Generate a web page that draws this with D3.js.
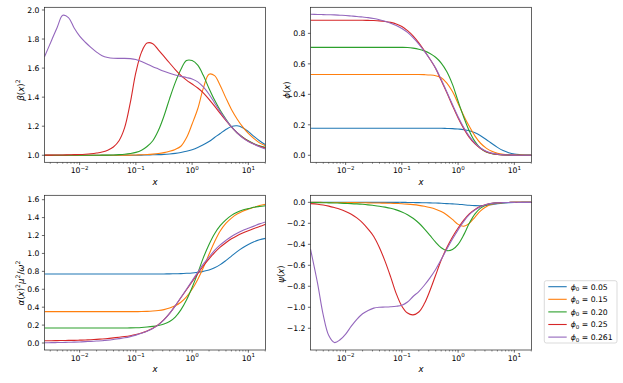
<!DOCTYPE html>
<html><head><meta charset="utf-8">
<script src="https://cdn.jsdelivr.net/npm/d3@7"></script>
<style>
body{margin:0;background:#fff;}
svg text{font-family:"DejaVu Sans",sans-serif;fill:#000;}
</style></head><body>
<svg id="c" width="623" height="383"></svg>
<script>
// radial coordinate samples (log-spaced)
const xs = [0.00237,0.00316,0.00398,0.00501,0.00631,0.00794,0.01,0.0126,0.0158,0.02,0.0251,0.0316,0.0398,0.0501,0.0631,0.0794,0.1,0.126,0.158,0.2,0.251,0.316,0.398,0.501,0.631,0.794,1,1.26,1.58,2,2.51,3.16,3.98,5.01,6.31,7.94,10,12.6,15.8,20.2];

const seriesLabels = ["0.05","0.15","0.20","0.25","0.261"];
const colors = ["#1f77b4","#ff7f0e","#2ca02c","#d62728","#9467bd"];

// beta(x)^2
const beta05 = [1,1,1,1,1,1,1,1,1,1,1,1,1,1,1,1,1,1.001,1.002,1.003,1.004,1.006,1.009,1.013,1.019,1.027,1.038,1.053,1.072,1.095,1.122,1.15,1.177,1.198,1.203,1.19,1.163,1.13,1.1,1.072];
const beta15 = [1,1,1,1,1,1,1,1,1,1,1,1,1,1,1.001,1.001,1.002,1.003,1.005,1.008,1.012,1.018,1.027,1.04,1.062,1.12,1.215,1.32,1.46,1.558,1.548,1.48,1.395,1.315,1.25,1.195,1.15,1.115,1.085,1.065];
const beta20 = [1,1,1,1,1,1,1,1,1,1,1.001,1.001,1.002,1.004,1.007,1.012,1.02,1.035,1.06,1.10,1.17,1.27,1.39,1.50,1.59,1.652,1.652,1.62,1.55,1.46,1.38,1.31,1.25,1.195,1.155,1.125,1.10,1.08,1.065,1.055];
const beta25 = [1.001,1.001,1.002,1.002,1.003,1.004,1.005,1.007,1.010,1.015,1.022,1.035,1.057,1.10,1.19,1.36,1.57,1.71,1.772,1.768,1.725,1.68,1.635,1.59,1.55,1.517,1.49,1.463,1.43,1.385,1.338,1.288,1.24,1.195,1.155,1.122,1.097,1.077,1.062,1.05];
const beta261 = [1.678,1.79,1.88,1.963,1.948,1.878,1.82,1.778,1.743,1.71,1.685,1.673,1.668,1.667,1.667,1.665,1.659,1.645,1.628,1.61,1.594,1.578,1.564,1.552,1.543,1.535,1.525,1.505,1.47,1.42,1.36,1.30,1.245,1.195,1.155,1.12,1.095,1.075,1.058,1.043];

// phi(x)
const phi05 = [0.177,0.177,0.177,0.177,0.177,0.177,0.177,0.177,0.177,0.177,0.177,0.177,0.177,0.177,0.177,0.177,0.177,0.177,0.177,0.177,0.177,0.177,0.177,0.177,0.176,0.175,0.172,0.168,0.161,0.148,0.128,0.104,0.077,0.052,0.031,0.017,0.008,0.004,0.002,0.001];
const phi15 = [0.53,0.53,0.53,0.53,0.53,0.53,0.53,0.53,0.53,0.53,0.53,0.53,0.53,0.53,0.53,0.53,0.53,0.53,0.53,0.53,0.529,0.527,0.522,0.509,0.474,0.418,0.34,0.26,0.19,0.126,0.079,0.047,0.026,0.013,0.006,0.003,0.0015,0.001,0.0005,0];
const phi20 = [0.708,0.708,0.708,0.708,0.708,0.708,0.708,0.708,0.708,0.708,0.708,0.708,0.708,0.708,0.708,0.708,0.708,0.707,0.703,0.696,0.685,0.668,0.643,0.605,0.548,0.465,0.355,0.25,0.16,0.09,0.046,0.022,0.011,0.005,0.002,0.001,0,0,0,0];
const phi25 = [0.886,0.886,0.886,0.886,0.886,0.886,0.886,0.886,0.886,0.886,0.885,0.884,0.882,0.878,0.872,0.862,0.845,0.818,0.784,0.738,0.686,0.63,0.57,0.49,0.41,0.325,0.245,0.175,0.118,0.075,0.045,0.024,0.012,0.006,0.003,0.0015,0.001,0,0,0];
const phi261 = [0.925,0.924,0.923,0.922,0.921,0.919,0.917,0.914,0.911,0.907,0.903,0.897,0.889,0.879,0.867,0.852,0.832,0.806,0.772,0.73,0.683,0.632,0.572,0.497,0.415,0.333,0.253,0.182,0.124,0.08,0.048,0.027,0.014,0.007,0.003,0.0015,0.001,0,0,0];

// alpha(x)^2 mu^2 / omega^2
const alpha05 = [0.771,0.771,0.771,0.771,0.771,0.771,0.771,0.771,0.771,0.771,0.771,0.771,0.771,0.771,0.771,0.771,0.771,0.771,0.771,0.771,0.771,0.771,0.772,0.773,0.775,0.778,0.782,0.79,0.80,0.815,0.84,0.875,0.92,0.97,1.02,1.063,1.10,1.13,1.152,1.168];
const alpha15 = [0.35,0.35,0.35,0.35,0.35,0.35,0.35,0.35,0.35,0.35,0.35,0.35,0.35,0.35,0.35,0.35,0.35,0.351,0.353,0.357,0.363,0.373,0.39,0.415,0.455,0.515,0.60,0.71,0.84,0.99,1.13,1.25,1.335,1.395,1.44,1.472,1.495,1.515,1.535,1.55];
const alpha20 = [0.168,0.168,0.168,0.168,0.168,0.168,0.168,0.168,0.168,0.168,0.168,0.168,0.168,0.168,0.168,0.169,0.171,0.174,0.179,0.186,0.196,0.212,0.24,0.29,0.37,0.48,0.62,0.78,0.95,1.10,1.22,1.31,1.375,1.425,1.46,1.485,1.50,1.515,1.524,1.532];
const alpha25 = [0.026,0.026,0.027,0.028,0.029,0.03,0.032,0.034,0.037,0.041,0.045,0.05,0.057,0.064,0.072,0.082,0.095,0.112,0.135,0.165,0.205,0.26,0.33,0.415,0.505,0.595,0.685,0.775,0.86,0.94,1.01,1.07,1.12,1.163,1.198,1.228,1.254,1.278,1.30,1.325];
const alpha261 = [0.003,0.004,0.005,0.006,0.008,0.01,0.012,0.015,0.018,0.022,0.026,0.032,0.04,0.049,0.058,0.071,0.088,0.108,0.132,0.163,0.203,0.258,0.33,0.415,0.508,0.60,0.695,0.79,0.88,0.96,1.035,1.095,1.145,1.19,1.225,1.255,1.28,1.305,1.33,1.352];

// psi(x)
const psi05 = [0,0,0,0,0,0,0,0,0,0,0,0,0,0,0,0,0,-0.001,-0.002,-0.003,-0.004,-0.005,-0.007,-0.009,-0.012,-0.015,-0.018,-0.023,-0.028,-0.031,-0.032,-0.029,-0.022,-0.014,-0.008,-0.004,-0.002,-0.001,0,0];
const psi15 = [0,0,-0.001,-0.001,-0.001,-0.002,-0.002,-0.003,-0.003,-0.004,-0.005,-0.006,-0.007,-0.008,-0.009,-0.011,-0.013,-0.017,-0.022,-0.029,-0.038,-0.05,-0.066,-0.088,-0.12,-0.163,-0.21,-0.228,-0.2,-0.14,-0.082,-0.042,-0.019,-0.008,-0.003,-0.001,0,0,0,0];
const psi20 = [-0.002,-0.003,-0.004,-0.005,-0.006,-0.008,-0.01,-0.012,-0.015,-0.019,-0.024,-0.03,-0.037,-0.046,-0.057,-0.072,-0.092,-0.118,-0.152,-0.197,-0.252,-0.315,-0.38,-0.433,-0.46,-0.45,-0.40,-0.31,-0.2,-0.11,-0.055,-0.026,-0.012,-0.005,-0.002,-0.001,0,0,0,0];
const psi25 = [-0.012,-0.018,-0.025,-0.036,-0.05,-0.066,-0.087,-0.113,-0.148,-0.195,-0.255,-0.325,-0.43,-0.56,-0.71,-0.87,-0.99,-1.055,-1.072,-1.045,-0.965,-0.84,-0.695,-0.55,-0.43,-0.33,-0.245,-0.17,-0.11,-0.068,-0.038,-0.02,-0.009,-0.004,-0.002,-0.001,0,0,0,0];
const psi261 = [-0.446,-0.77,-1.07,-1.27,-1.336,-1.31,-1.255,-1.18,-1.115,-1.062,-1.03,-1.008,-1.0,-0.998,-0.995,-0.99,-0.98,-0.95,-0.897,-0.85,-0.79,-0.72,-0.64,-0.545,-0.445,-0.35,-0.262,-0.182,-0.118,-0.072,-0.041,-0.021,-0.01,-0.005,-0.002,-0.001,0,0,0,0];

// ticks
const xMajorTicks = [0.01, 0.1, 1, 10];
const xMajorExps = ["\u22122", "\u22121", "0", "1"];
const yTicksBeta = [1.0, 1.2, 1.4, 1.6, 1.8, 2.0];
const yTicksPhi = [0.0, 0.2, 0.4, 0.6, 0.8];
const yTicksAlpha = [0.0, 0.2, 0.4, 0.6, 0.8, 1.0, 1.2, 1.4, 1.6];
const yTicksPsi = [-1.2, -1.0, -0.8, -0.6, -0.4, -0.2, 0.0];

const FS = 7.7;
const LFS = 8.6;
const svg = d3.select("#c");
const xDomain = [0.00237, 20.2];

function rich(sel, parts, fs){
  let cur = 0;
  parts.forEach(p => {
    const target = p.sup ? -0.42*fs : (p.sub ? 0.22*fs : 0);
    const ts = sel.append("tspan").attr("dy", (target-cur).toFixed(2)).text(p.t);
    cur = target;
    if (p.it) ts.attr("font-style","italic");
    if (p.sup || p.sub) ts.attr("font-size", (0.72*fs).toFixed(2));
  });
}

const panels = [
  {x0:44.5, y0:7.3, h:155, dom:[0.9515,2.0185], ticks:yTicksBeta, data:[beta05,beta15,beta20,beta25,beta261], lblX:24, lblY:90,
   label:[{t:"\u03b2",it:true},{t:"("},{t:"x",it:true},{t:")"},{t:"2",sup:true}]},
  {x0:310.5, y0:7.3, h:155, dom:[-0.046,0.971], ticks:yTicksPhi, data:[phi05,phi15,phi20,phi25,phi261], lblX:290, lblY:90,
   label:[{t:"\u03d5",it:true},{t:"("},{t:"x",it:true},{t:")"}]},
  {x0:44.5, y0:195.3, h:154.7, dom:[-0.078,1.649], ticks:yTicksAlpha, data:[alpha05,alpha15,alpha20,alpha25,alpha261], lblX:24, lblY:283,
   label:[{t:"\u03b1",it:true},{t:"("},{t:"x",it:true},{t:")"},{t:"2",sup:true},{t:"\u03bc",it:true},{t:"2",sup:true},{t:"/"},{t:"\u03c9",it:true},{t:"2",sup:true}]},
  {x0:310.5, y0:195.3, h:154.7, dom:[-1.407,0.067], ticks:yTicksPsi, data:[psi05,psi15,psi20,psi25,psi261], lblX:284, lblY:274,
   label:[{t:"\u03c8",it:true},{t:"("},{t:"x",it:true},{t:")"}]}
];
const W = 221;

panels.forEach((p, pi) => {
  const x = d3.scaleLog().domain(xDomain).range([p.x0, p.x0 + W]);
  const y = d3.scaleLinear().domain(p.dom).range([p.y0 + p.h, p.y0]);
  const g = svg.append("g");
  const cid = "clip" + pi;
  svg.append("clipPath").attr("id", cid).append("rect")
     .attr("x", p.x0).attr("y", p.y0).attr("width", W).attr("height", p.h);

  const line = d3.line().x((d,i) => x(xs[i])).y(d => y(d)).curve(d3.curveCatmullRom.alpha(0.5));
  p.data.forEach((s, si) => {
    g.append("path").attr("d", line(s)).attr("fill","none")
     .attr("stroke", colors[si]).attr("stroke-width", 1.1)
     .attr("clip-path", `url(#${cid})`);
  });

  // x axis ticks
  const yb = p.y0 + p.h;
  const minors = [];
  for (let e = -3; e <= 1; e++) for (let k = 2; k <= 9; k++) {
    const v = k * Math.pow(10, e);
    if (v >= xDomain[0] && v <= xDomain[1]) minors.push(v);
  }
  g.selectAll(".mn").data(minors).enter().append("line")
    .attr("x1", d => x(d)).attr("x2", d => x(d)).attr("y1", yb).attr("y2", yb + 1.5)
    .attr("stroke", "#000").attr("stroke-width", 0.45);
  xMajorTicks.forEach((v, i) => {
    g.append("line").attr("x1", x(v)).attr("x2", x(v)).attr("y1", yb).attr("y2", yb + 2.6)
      .attr("stroke", "#000").attr("stroke-width", 0.6);
    const t = g.append("text").attr("x", x(v)).attr("y", yb + 10.5)
      .attr("text-anchor", "middle").attr("font-size", FS);
    rich(t, [{t:"10"}, {t:xMajorExps[i], sup:true}], FS);
  });
  // x label
  g.append("text").attr("x", p.x0 + W/2).attr("y", yb + 22.2).attr("text-anchor","middle")
    .attr("font-size", LFS).attr("font-style","italic").text("x");

  // y ticks
  p.ticks.forEach(v => {
    g.append("line").attr("x1", p.x0 - 2.6).attr("x2", p.x0).attr("y1", y(v)).attr("y2", y(v))
      .attr("stroke", "#000").attr("stroke-width", 0.6);
    g.append("text").attr("x", p.x0 - 5).attr("y", y(v)).attr("dy", "0.36em")
      .attr("text-anchor", "end").attr("font-size", FS)
      .text(d3.format(".1f")(v).replace("-", "\u2212"));
  });
  // y label
  const yl = g.append("text").attr("transform", `translate(${p.lblX},${p.lblY}) rotate(-90)`)
    .attr("text-anchor","middle").attr("font-size", LFS);
  rich(yl, p.label, LFS);

  // frame
  g.append("rect").attr("x", p.x0).attr("y", p.y0).attr("width", W).attr("height", p.h)
    .attr("fill", "none").attr("stroke", "#222").attr("stroke-width", 0.7);
});

// legend
const lg = svg.append("g");
lg.append("rect").attr("x", 544.3).attr("y", 280.7).attr("width", 72.7).attr("height", 62.3)
  .attr("rx", 2).attr("fill", "#fff").attr("fill-opacity", 0.8)
  .attr("stroke", "#ccc").attr("stroke-width", 0.7);
seriesLabels.forEach((lab, i) => {
  const yy = 286.7 + i * 12.6;
  lg.append("line").attr("x1", 548.3).attr("x2", 566.7).attr("y1", yy).attr("y2", yy)
    .attr("stroke", colors[i]).attr("stroke-width", 1.1);
  const t = lg.append("text").attr("x", 570.7).attr("y", yy + 2.8).attr("font-size", FS);
  rich(t, [{t:"\u03d5", it:true}, {t:"0", sub:true}, {t:" = " + lab}], FS);
});
</script>
</body></html>
